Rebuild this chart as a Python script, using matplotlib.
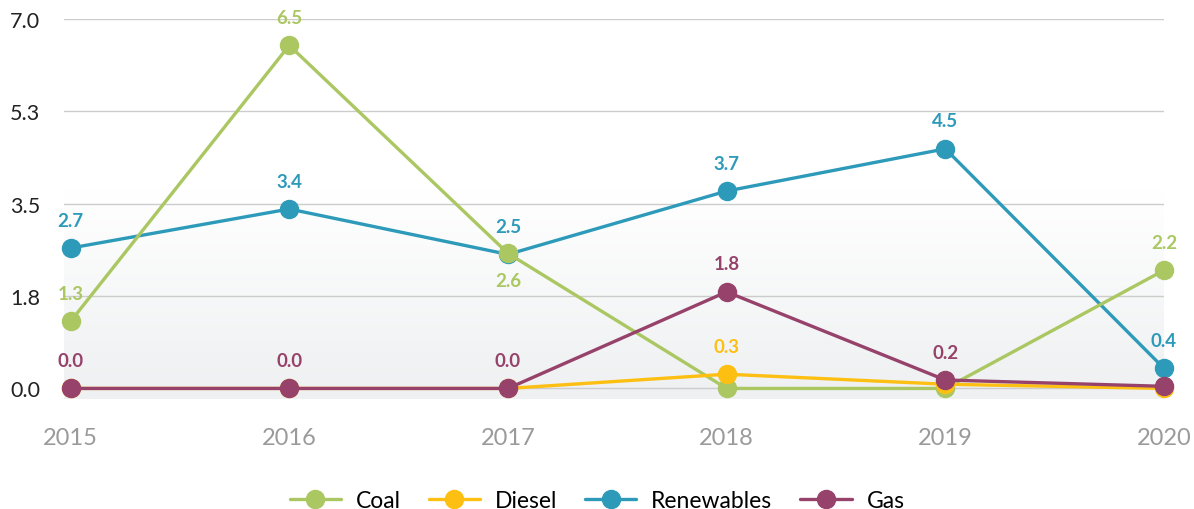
import numpy as np
import matplotlib.pyplot as plt
from matplotlib.colors import LinearSegmentedColormap

# data
years = [2015, 2016, 2017, 2018, 2019, 2020]
coal = [1.27, 6.5, 2.56, 0.0, 0.0, 2.24]
diesel = [0.0, 0.0, 0.0, 0.27, 0.08, 0.0]
renewables = [2.66, 3.4, 2.54, 3.74, 4.54, 0.38]
gas = [0.0, 0.0, 0.0, 1.83, 0.16, 0.04]

# which points carry a value label (the rest were hidden in the original)
coal_lbl = [1, 1, 1, 0, 0, 1]
diesel_lbl = [0, 0, 0, 1, 0, 0]
renewables_lbl = [1, 1, 1, 1, 1, 1]
gas_lbl = [1, 1, 1, 1, 1, 0]

y_ticks = [0.0, 1.75, 3.5, 5.25, 7.0]
y_ticklabels = ['0.0', '1.8', '3.5', '5.3', '7.0']

plt.rcParams['font.family'] = ['Lato', 'DejaVu Sans']

fig = plt.figure(figsize=(11.94, 5.10), dpi=100)
ax = fig.add_axes([64 / 1194, 1 - 400 / 510, 1100 / 1194, 380 / 510])

ax.set_xlim(2014.97, 2020)
ax.set_ylim(-0.2, 7.0)

# soft gray gradient in the lower half of the plot
cmap = LinearSegmentedColormap.from_list('bg', ['#eef0f1', '#ffffff'])
grad = np.linspace(0, 1, 256).reshape(-1, 1)
grad = np.clip(grad / 0.55, 0, 1)
ax.imshow(grad, aspect='auto', cmap=cmap, origin='lower',
          extent=[2014.97, 2020, -0.2, 7.0], zorder=0)

for t in y_ticks:
    ax.axhline(t, color='#cccccc', lw=1.0, zorder=1)

series = [
    ('Coal', coal, coal_lbl, '#abc762', 3),
    ('Diesel', diesel, diesel_lbl, '#fdbf12', 4),
    ('Renewables', renewables, renewables_lbl, '#2e9aba', 2),
    ('Gas', gas, gas_lbl, '#96426b', 5),
]

for name, vals, lbl, col, z in series:
    ax.plot(years, vals, color=col, lw=2.4, marker='o', markersize=13,
            label=name, zorder=z, clip_on=False, solid_capstyle='round')
    for i, (x, v) in enumerate(zip(years, vals)):
        if not lbl[i]:
            continue
        dy = 14
        if name == 'Coal' and x == 2017:
            dy = -26
        ax.annotate('%.1f' % v, (x, v), xytext=(0, dy), textcoords='offset points',
                    ha='center', va='bottom', color=col, fontsize=13.5,
                    fontweight='bold', zorder=6)

ax.set_yticks(y_ticks)
ax.set_yticklabels(y_ticklabels, fontsize=15.5, color='#222222')
ax.set_xticks(years)
ax.set_xticklabels([str(y) for y in years], fontsize=17, color='#9a9a9a')
ax.tick_params(axis='both', length=0)
ax.tick_params(axis='y', pad=17)
ax.tick_params(axis='x', pad=20)
for s in ax.spines.values():
    s.set_visible(False)

leg = fig.legend(loc='lower center', bbox_to_anchor=(0.5, -0.045), ncol=4,
                 frameon=False, fontsize=16.5, handlelength=2.25, columnspacing=1.2,
                 handletextpad=0.65)

fig.savefig('out.png', dpi=100)
